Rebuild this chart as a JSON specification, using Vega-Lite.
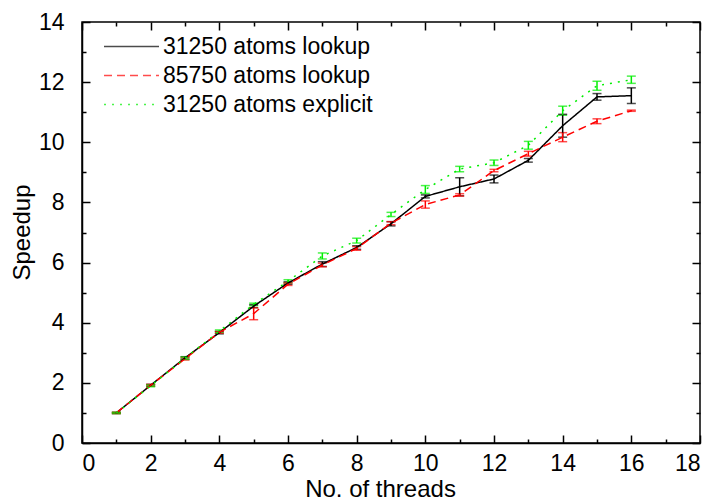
{
  "$schema": "https://vega.github.io/schema/vega-lite/v6.json",
  "width": 618,
  "height": 421,
  "autosize": "none",
  "padding": {"left": 82, "top": 22, "right": 14, "bottom": 58},
  "background": "white",
  "config": {
    "font": "Liberation Sans",
    "view": {"stroke": "black", "strokeWidth": 1.5},
    "axis": {
      "grid": false,
      "domainColor": "black",
      "domainWidth": 1.5,
      "tickColor": "black",
      "tickWidth": 1.5,
      "labelColor": "black",
      "labelFont": "Liberation Sans",
      "labelFontSize": 23,
      "titleFont": "Liberation Sans",
      "titleFontSize": 24,
      "titleFontWeight": "normal",
      "titleColor": "black"
    },
    "legend": {
      "labelFont": "Liberation Sans",
      "labelFontSize": 23,
      "labelColor": "black",
      "labelLimit": 400,
      "rowPadding": 0,
      "clipHeight": 29
    }
  },
  "data": {
    "values": [
      {"n": 1, "series": "31250 atoms lookup", "speedup": 1.0, "lo": 0.98, "hi": 1.02},
      {"n": 2, "series": "31250 atoms lookup", "speedup": 1.92, "lo": 1.89, "hi": 1.95},
      {"n": 3, "series": "31250 atoms lookup", "speedup": 2.83, "lo": 2.79, "hi": 2.87},
      {"n": 4, "series": "31250 atoms lookup", "speedup": 3.67, "lo": 3.63, "hi": 3.71},
      {"n": 5, "series": "31250 atoms lookup", "speedup": 4.55, "lo": 4.5, "hi": 4.6},
      {"n": 6, "series": "31250 atoms lookup", "speedup": 5.32, "lo": 5.28, "hi": 5.36},
      {"n": 7, "series": "31250 atoms lookup", "speedup": 5.95, "lo": 5.87, "hi": 6.03},
      {"n": 8, "series": "31250 atoms lookup", "speedup": 6.5, "lo": 6.44, "hi": 6.56},
      {"n": 9, "series": "31250 atoms lookup", "speedup": 7.29, "lo": 7.22, "hi": 7.36},
      {"n": 10, "series": "31250 atoms lookup", "speedup": 8.2, "lo": 8.15, "hi": 8.25},
      {"n": 11, "series": "31250 atoms lookup", "speedup": 8.52, "lo": 8.22, "hi": 8.82},
      {"n": 12, "series": "31250 atoms lookup", "speedup": 8.78, "lo": 8.65, "hi": 8.91},
      {"n": 13, "series": "31250 atoms lookup", "speedup": 9.4, "lo": 9.34, "hi": 9.46},
      {"n": 14, "series": "31250 atoms lookup", "speedup": 10.55, "lo": 10.17, "hi": 10.93},
      {"n": 15, "series": "31250 atoms lookup", "speedup": 11.51, "lo": 11.4, "hi": 11.62},
      {"n": 16, "series": "31250 atoms lookup", "speedup": 11.55, "lo": 11.29, "hi": 11.81},
      {"n": 1, "series": "85750 atoms lookup", "speedup": 1.0, "lo": 0.98, "hi": 1.02},
      {"n": 2, "series": "85750 atoms lookup", "speedup": 1.92, "lo": 1.89, "hi": 1.95},
      {"n": 3, "series": "85750 atoms lookup", "speedup": 2.8, "lo": 2.76, "hi": 2.84},
      {"n": 4, "series": "85750 atoms lookup", "speedup": 3.68, "lo": 3.65, "hi": 3.71},
      {"n": 5, "series": "85750 atoms lookup", "speedup": 4.3, "lo": 4.1, "hi": 4.5},
      {"n": 6, "series": "85750 atoms lookup", "speedup": 5.28, "lo": 5.24, "hi": 5.32},
      {"n": 7, "series": "85750 atoms lookup", "speedup": 5.92, "lo": 5.86, "hi": 5.98},
      {"n": 8, "series": "85750 atoms lookup", "speedup": 6.47, "lo": 6.41, "hi": 6.53},
      {"n": 9, "series": "85750 atoms lookup", "speedup": 7.31, "lo": 7.26, "hi": 7.36},
      {"n": 10, "series": "85750 atoms lookup", "speedup": 7.93, "lo": 7.81, "hi": 8.05},
      {"n": 11, "series": "85750 atoms lookup", "speedup": 8.25, "lo": 8.21, "hi": 8.29},
      {"n": 12, "series": "85750 atoms lookup", "speedup": 9.06, "lo": 9.02, "hi": 9.1},
      {"n": 13, "series": "85750 atoms lookup", "speedup": 9.62, "lo": 9.54, "hi": 9.7},
      {"n": 14, "series": "85750 atoms lookup", "speedup": 10.17, "lo": 10.02, "hi": 10.32},
      {"n": 15, "series": "85750 atoms lookup", "speedup": 10.7, "lo": 10.62, "hi": 10.78},
      {"n": 16, "series": "85750 atoms lookup", "speedup": 11.05, "lo": 11.03, "hi": 11.07},
      {"n": 1, "series": "31250 atoms explicit", "speedup": 1.0, "lo": 0.98, "hi": 1.02},
      {"n": 2, "series": "31250 atoms explicit", "speedup": 1.9, "lo": 1.87, "hi": 1.93},
      {"n": 3, "series": "31250 atoms explicit", "speedup": 2.82, "lo": 2.78, "hi": 2.86},
      {"n": 4, "series": "31250 atoms explicit", "speedup": 3.72, "lo": 3.68, "hi": 3.76},
      {"n": 5, "series": "31250 atoms explicit", "speedup": 4.61, "lo": 4.57, "hi": 4.65},
      {"n": 6, "series": "31250 atoms explicit", "speedup": 5.38, "lo": 5.33, "hi": 5.43},
      {"n": 7, "series": "31250 atoms explicit", "speedup": 6.22, "lo": 6.12, "hi": 6.32},
      {"n": 8, "series": "31250 atoms explicit", "speedup": 6.73, "lo": 6.65, "hi": 6.81},
      {"n": 9, "series": "31250 atoms explicit", "speedup": 7.6, "lo": 7.53, "hi": 7.67},
      {"n": 10, "series": "31250 atoms explicit", "speedup": 8.43, "lo": 8.3, "hi": 8.56},
      {"n": 11, "series": "31250 atoms explicit", "speedup": 9.11, "lo": 9.02, "hi": 9.2},
      {"n": 12, "series": "31250 atoms explicit", "speedup": 9.32, "lo": 9.23, "hi": 9.41},
      {"n": 13, "series": "31250 atoms explicit", "speedup": 9.9, "lo": 9.77, "hi": 10.03},
      {"n": 14, "series": "31250 atoms explicit", "speedup": 11.05, "lo": 10.9, "hi": 11.2},
      {"n": 15, "series": "31250 atoms explicit", "speedup": 11.88, "lo": 11.73, "hi": 12.03},
      {"n": 16, "series": "31250 atoms explicit", "speedup": 12.08, "lo": 11.96, "hi": 12.2}
    ]
  },
  "layer": [
    {
      "mark": {"type": "errorbar", "ticks": {"size": 9}, "thickness": 1.5},
      "encoding": {
        "x": {
          "field": "n", "type": "quantitative",
          "scale": {"domain": [0, 18], "nice": false, "zero": false},
          "axis": {
            "orient": "top", "title": null, "labels": false, "domain": false,
            "values": [0,1,2,3,4,5,6,7,8,9,10,11,12,13,14,15,16,17,18],
            "tickSize": {"condition": {"test": "datum.value % 2 === 0", "value": -8}, "value": -4}
          }
        },
        "y": {
          "field": "lo", "type": "quantitative",
          "scale": {"domain": [0, 14], "nice": false},
          "axis": {
            "orient": "right", "title": null, "labels": false, "domain": false,
            "values": [0,1,2,3,4,5,6,7,8,9,10,11,12,13,14],
            "tickSize": {"condition": {"test": "datum.value % 2 === 0", "value": -8}, "value": -4}
          }
        },
        "y2": {"field": "hi"},
        "color": {
          "field": "series", "type": "nominal",
          "scale": {"domain": ["31250 atoms lookup", "85750 atoms lookup", "31250 atoms explicit"], "range": ["#000000", "#ff0000", "#00ee00"]},
          "legend": {
            "orient": "none", "legendX": 21, "legendY": 10, "title": null,
            "symbolType": "stroke", "symbolSize": 3025, "symbolStrokeWidth": 1.5,
            "labelOffset": 3
          }
        }
      }
    },
    {
      "mark": {"type": "line", "strokeWidth": 1.5},
      "encoding": {
        "x": {
          "field": "n", "type": "quantitative",
          "axis": {
            "orient": "bottom", "title": "No. of threads",
            "values": [0,1,2,3,4,5,6,7,8,9,10,11,12,13,14,15,16,17,18],
            "labelExpr": "datum.value % 2 === 0 ? datum.label : ''",
            "tickSize": {"condition": {"test": "datum.value % 2 === 0", "value": -8}, "value": -4},
            "labelPadding": 17,
            "titleX": 298, "titleY": 53, "titleAlign": "center", "titleBaseline": "alphabetic"
          }
        },
        "y": {
          "field": "speedup", "type": "quantitative",
          "axis": {
            "orient": "left", "title": "Speedup",
            "values": [0,1,2,3,4,5,6,7,8,9,10,11,12,13,14],
            "labelExpr": "datum.value % 2 === 0 ? datum.label : ''",
            "tickSize": {"condition": {"test": "datum.value % 2 === 0", "value": -8}, "value": -4},
            "labelPadding": 26,
            "titleX": -60, "titleY": 210, "titleAlign": "center", "titleBaseline": "middle", "titleAngle": 270
          }
        },
        "color": {
          "field": "series", "type": "nominal",
          "legend": {
            "orient": "none", "legendX": 21, "legendY": 10, "title": null,
            "symbolType": "stroke", "symbolSize": 3025, "symbolStrokeWidth": 1.5,
            "labelOffset": 3
          }
        },
        "strokeDash": {
          "field": "series", "type": "nominal",
          "scale": {"domain": ["31250 atoms lookup", "85750 atoms lookup", "31250 atoms explicit"], "range": [[1, 0], [8, 5], [2, 6]]},
          "legend": {
            "orient": "none", "legendX": 21, "legendY": 10, "title": null,
            "symbolType": "stroke", "symbolSize": 3025, "symbolStrokeWidth": 1.5,
            "labelOffset": 3
          }
        }
      }
    }
  ],
  "resolve": {"axis": {"x": "independent", "y": "independent"}}
}
